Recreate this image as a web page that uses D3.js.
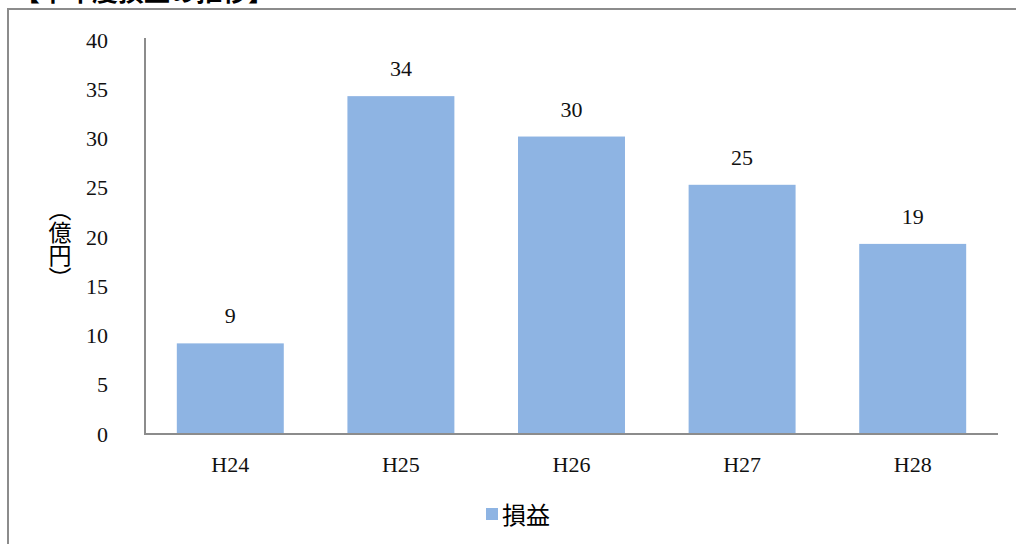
<!DOCTYPE html>
<html>
<head>
<meta charset="utf-8">
<script src="https://cdn.jsdelivr.net/npm/d3@7"></script>
<style>
html,body{margin:0;padding:0;background:#fff;}
svg{display:block;}
</style>
</head>
<body>
<svg id="chart" width="1016" height="544"></svg>
<script>
const title = "【単年度損益の推移】";
const categories = ["H24", "H25", "H26", "H27", "H28"];
const values = [9.2, 34.3, 30.2, 25.3, 19.3];
const yTicks = [0, 5, 10, 15, 20, 25, 30, 35, 40];
const seriesName = "損益";
const yLabel = ["（", "億", "円", "）"];

(function () {
const svg = d3.select("#chart");
const serif = "'Liberation Serif','DejaVu Serif',serif";
const cjk = "'Noto Sans CJK JP','Noto Sans CJK SC',sans-serif";
const barColor = "#8eb4e3";

// title (cropped at top, as in the reference)
svg.append("text").attr("x", 14).attr("y", 1)
  .attr("font-family", cjk).attr("font-size", 26).attr("font-weight", "bold")
  .attr("fill", "#000").text(title);

// border box
svg.append("path").attr("d", "M8,544 V9 H1016")
  .attr("fill", "none").attr("stroke", "#8c8c8c").attr("stroke-width", 2);

const mLeft = 145, mRight = 998, mTop = 40, mBottom = 434;
const x = d3.scaleBand().domain(categories).range([mLeft, mRight]).paddingInner(0.373).paddingOuter(0.1865);
const y = d3.scaleLinear().domain([0, 40]).range([mBottom, mTop]);

// bars
svg.append("g").selectAll("rect").data(values).join("rect")
  .attr("x", (d, i) => x(categories[i]))
  .attr("y", d => y(d))
  .attr("width", x.bandwidth())
  .attr("height", d => y(0) - y(d))
  .attr("fill", barColor);

// value labels
svg.append("g").selectAll("text").data(values).join("text")
  .attr("x", (d, i) => x(categories[i]) + x.bandwidth() / 2)
  .attr("y", d => y(d) - 20)
  .attr("text-anchor", "middle")
  .attr("font-family", serif).attr("font-size", 22).attr("fill", "#111")
  .text(d => d3.format(".0f")(d));

// y axis
const yAxis = d3.axisLeft(y).tickValues(yTicks).tickSize(0).tickPadding(37).tickFormat(d3.format("d"));
const gy = svg.append("g").attr("transform", `translate(${mLeft},0)`).call(yAxis);
gy.select(".domain").attr("stroke", "#8c8c8c").attr("stroke-width", 2).attr("d", `M0,${mTop - 2}V${mBottom}`);
gy.selectAll("text").attr("font-family", serif).attr("font-size", 22).attr("fill", "#111");

// x axis
const xAxis = d3.axisBottom(x).tickSize(0).tickPadding(22);
const gx = svg.append("g").attr("transform", `translate(0,${mBottom})`).call(xAxis);
gx.select(".domain").attr("stroke", "#8c8c8c").attr("stroke-width", 2).attr("d", `M${mLeft - 1},0H${mRight}`);
gx.selectAll("text").attr("font-family", serif).attr("font-size", 22).attr("fill", "#111");

// y label (vertical)
svg.append("text").attr("x", 60).attr("y", 198)
  .attr("font-family", cjk).attr("font-size", 23).attr("fill", "#000")
  .style("writing-mode", "vertical-rl")
  .text(yLabel.join(""));

// legend
svg.append("rect").attr("x", 486).attr("y", 508).attr("width", 12).attr("height", 12).attr("fill", barColor);
svg.append("text").attr("x", 502).attr("y", 524)
  .attr("font-family", cjk).attr("font-size", 24).attr("fill", "#000").text(seriesName);
})();
</script>
</body>
</html>
